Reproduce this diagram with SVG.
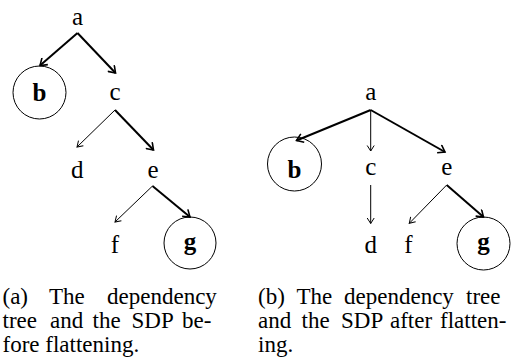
<svg xmlns="http://www.w3.org/2000/svg" width="511" height="360" viewBox="0 0 511 360">
<style>
text{font-family:'Liberation Serif','Times New Roman',serif;fill:#000}
.lbl{font-size:25px;text-anchor:middle}
.bold{font-weight:bold}
.cap{font-size:23px}
.circ{fill:none;stroke:#000;stroke-width:1}
.thick{stroke:#000;stroke-width:2;fill:none;marker-end:url(#ah)}
.thin{stroke:#000;stroke-width:1;fill:none;marker-end:url(#ahs)}
</style>
<defs>
<marker id="ah" markerUnits="userSpaceOnUse" viewBox="-8 -5 10 10" refX="0" refY="0" markerWidth="10" markerHeight="10" orient="auto">
<path d="M -6.5 -4.5 L 0 0 L -6.5 4.5" fill="none" stroke="#000" stroke-width="1.6"/>
</marker>
<marker id="ahs" markerUnits="userSpaceOnUse" viewBox="-8 -5 10 10" refX="0" refY="0" markerWidth="10" markerHeight="10" orient="auto">
<path d="M -5.5 -3.5 L 0 0 L -5.5 3.5" fill="none" stroke="#000" stroke-width="1"/>
</marker>
</defs>
<g id="connectors">
<line class="thick" x1="77.5" y1="33" x2="40" y2="65.5"/>
<line class="thick" x1="77.5" y1="33" x2="115.5" y2="73"/>
<line class="thin" x1="115" y1="110" x2="77" y2="147"/>
<line class="thick" x1="115" y1="110" x2="153.5" y2="150"/>
<line class="thin" x1="152.5" y1="186" x2="115" y2="222"/>
<line class="thick" x1="152.5" y1="186" x2="190" y2="217"/>
<line class="thick" x1="370.7" y1="110" x2="296.5" y2="140.5"/>
<line class="thin" x1="370.7" y1="110" x2="370.7" y2="151"/>
<line class="thick" x1="370.7" y1="110" x2="445" y2="152"/>
<line class="thin" x1="370.7" y1="185" x2="370.7" y2="223.5"/>
<line class="thin" x1="446.7" y1="185" x2="409.3" y2="223.3"/>
<line class="thick" x1="446.7" y1="185" x2="483.5" y2="217"/>
</g>
<g id="tree-a">
<g id="a1"><text class="lbl" x="77.5" y="25">a</text></g>
<g id="b1"><circle class="circ" cx="39.5" cy="92.5" r="26.5"/><text class="lbl bold" x="39.5" y="101">b</text></g>
<g id="c1"><text class="lbl" x="115" y="100">c</text></g>
<g id="d1"><text class="lbl" x="77.3" y="178">d</text></g>
<g id="e1"><text class="lbl" x="153" y="177.5">e</text></g>
<g id="f1"><text class="lbl" x="115" y="253">f</text></g>
<g id="g1"><circle class="circ" cx="190" cy="243" r="26"/><text class="lbl bold" x="190" y="250">g</text></g>
</g>
<g id="tree-b">
<g id="a2"><text class="lbl" x="370.7" y="100">a</text></g>
<g id="b2"><circle class="circ" cx="294.5" cy="164" r="27"/><text class="lbl bold" x="294.5" y="178">b</text></g>
<g id="c2"><text class="lbl" x="370.7" y="175">c</text></g>
<g id="d2"><text class="lbl" x="370.7" y="253">d</text></g>
<g id="e2"><text class="lbl" x="446.7" y="175">e</text></g>
<g id="f2"><text class="lbl" x="408.5" y="253">f</text></g>
<g id="g2"><circle class="circ" cx="483.5" cy="243.5" r="26.5"/><text class="lbl bold" x="483.5" y="250">g</text></g>
</g>
<g id="captions">
<text class="cap" y="304"><tspan x="2.5">(a)</tspan><tspan x="49">The</tspan><tspan x="107">dependency</tspan></text>
<text class="cap" y="328"><tspan x="2.5">tree</tspan><tspan x="50">and</tspan><tspan x="92.5">the</tspan><tspan x="131.5">SDP</tspan><tspan x="182">be-</tspan></text>
<text class="cap" y="351.5"><tspan x="2.5">fore flattening.</tspan></text>
<text class="cap" y="304"><tspan x="258">(b)</tspan><tspan x="296.5">The</tspan><tspan x="344">dependency</tspan><tspan x="466">tree</tspan></text>
<text class="cap" y="328"><tspan x="258">and</tspan><tspan x="301.5">the</tspan><tspan x="341">SDP</tspan><tspan x="390">after</tspan><tspan x="440">flatten-</tspan></text>
<text class="cap" y="351.5"><tspan x="258">ing.</tspan></text>
</g>
</svg>
